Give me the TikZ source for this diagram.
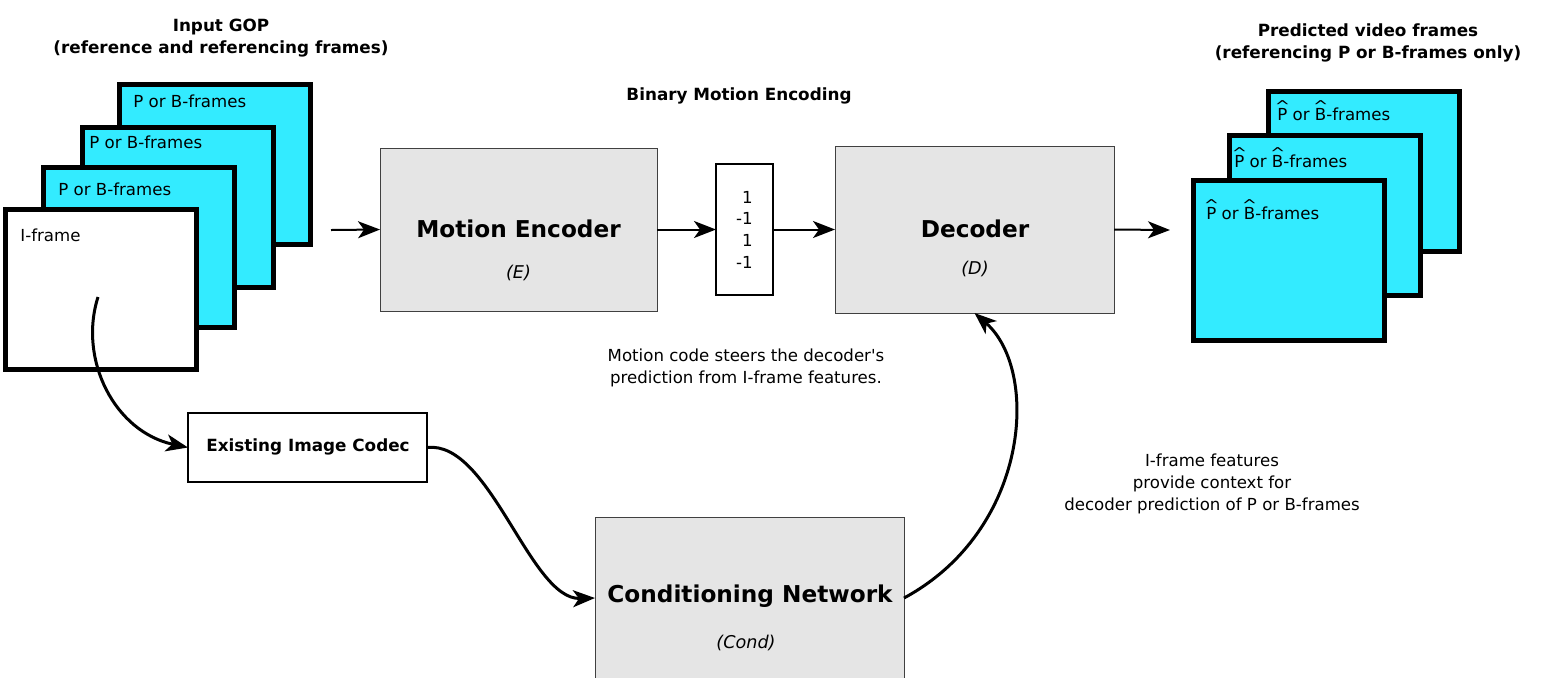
\documentclass[tikz,border=0pt]{standalone}
\usepackage{fontspec}
\setmainfont{DejaVu Sans}
\usepackage{graphicx}
\usetikzlibrary{positioning,arrows.meta}
\definecolor{framecyan}{RGB}{51,235,255}
\definecolor{blockgray}{RGB}{229,229,229}

\newcommand{\hatted}[1]{\leavevmode\rlap{\raisebox{0.5em}{\makebox[\fontcharwd\font`#1]{\scalebox{1.1}[0.9]{\textasciicircum}}}}#1}

\begin{document}
\begin{tikzpicture}[x=0.5pt,y=-0.5pt]
	\tikzset{
		vidframe/.style={draw,line width=2.5pt,fill=framecyan,inner sep=0pt,outer sep=0pt,minimum width=95.5pt,minimum height=80pt},
		iframe/.style={vidframe,fill=white},
		block/.style={draw=black!75,line width=0.5pt,fill=blockgray,inner sep=0pt,outer sep=0pt},
		whitebox/.style={draw,line width=1pt,fill=white,inner sep=0pt,outer sep=0pt},
		framelabel/.style={anchor=base west,inner sep=0pt,font=\fontsize{8.3}{10}\selectfont},
		title/.style={align=center,font=\fontsize{8.4}{11}\selectfont\bfseries},
		bigtitle/.style={font=\fontsize{11.6}{14}\selectfont\bfseries},
		tag/.style={font=\fontsize{8.8}{11}\selectfont\itshape},
		note/.style={align=center,font=\fontsize{8.3}{11}\selectfont},
		>={Stealth[length=11pt,width=8.5pt,inset=3pt]},
		link/.style={->,line width=1pt},
		curvelink/.style={->,line width=1.5pt}
	}
	\useasboundingbox (0,0) rectangle (1543,677);

	%% input GOP
	\node[title] (intitle) at (221,38) {Input GOP\\(reference and referencing frames)};
	\node[vidframe] (in3) at (215,164.5) {};
	\node[framelabel] (in3l) at (133,107) {P or B-frames};
	\node[vidframe] (in2) at (177.5,207) {};
	\node[framelabel] (in2l) at (89,148) {P or B-frames};
	\node[vidframe] (in1) at (139,247.5) {};
	\node[framelabel] (in1l) at (58,195) {P or B-frames};
	\node[iframe] (in0) at (100.5,289) {};
	\node[framelabel] (in0l) at (20,241) {I-frame};
	\coordinate (itap) at (98,297);
	\coordinate (gopout) at (331,230);

	%% encoder, code, decoder
	\node[block,minimum width=138.5pt,minimum height=81.5pt] (enc) at (518.5,229.5) {};
	\node[bigtitle] (encl) at (518.5,229) {Motion Encoder};
	\node[tag] (enct) at (518.5,273) {(E)};
	\node[font=\fontsize{8.4}{11}\selectfont\bfseries] (codetitle) at (739,96) {Binary Motion Encoding};
	\node[whitebox,minimum width=28.5pt,minimum height=65.5pt] (code) at (744.5,229.5) {};
	\node[note,align=right,font=\fontsize{8.3}{10.85}\selectfont] (codel) at (744.5,229.5) {1\\-1\\1\\-1};
	\node[block,minimum width=139.5pt,minimum height=83.5pt] (dec) at (974.5,229.5) {};
	\node[bigtitle] (decl) at (975,229) {Decoder};
	\node[tag] (dect) at (975,269) {(D)};
	\coordinate (decout) at (1170,230);

	%% predicted frames
	\node[title] (outtitle) at (1368,43) {Predicted video frames\\(referencing P or B-frames only)};
	\node[vidframe] (out3) at (1364,171) {};
	\node[framelabel] (out3l) at (1277,120) {\hatted{P} or \hatted{B}-frames};
	\node[vidframe] (out2) at (1325,215) {};
	\node[framelabel] (out2l) at (1234,167) {\hatted{P} or \hatted{B}-frames};
	\node[vidframe] (out1) at (1288.5,260) {};
	\node[framelabel] (out1l) at (1206,219) {\hatted{P} or \hatted{B}-frames};

	%% codec and conditioning
	\node[whitebox,minimum width=119.5pt,minimum height=34.5pt] (codec) at (307.5,447.5) {};
	\node[font=\fontsize{8.4}{11}\selectfont\bfseries] (codecl) at (308,447) {Existing Image Codec};
	\node[block,minimum width=154.5pt,minimum height=81pt] (cond) at (749.5,598) {};
	\node[bigtitle] (condl) at (750,596) {Conditioning Network};
	\node[tag] (condt) at (746,643) {(Cond)};

	%% notes
	\node[note] (note1) at (746,368) {Motion code steers the decoder\textquotesingle s\\prediction from I-frame features.};
	\node[note] (note2) at (1212,484) {I-frame features\\provide context for\\decoder prediction of P or B-frames};

	%% connectors
	\draw[link] (gopout) -- (enc.west);
	\draw[link] (enc.east) -- (code.west);
	\draw[link] (code.east) -- (dec.west);
	\draw[link] (dec.east) -- (decout);
	\draw[curvelink] (itap) .. controls (78,360) and (115,432) .. (codec.west);
	\draw[curvelink] (codec.east) .. controls (490,440) and (530,600) .. (cond.west);
	\draw[curvelink] (cond.east) .. controls (1030,530) and (1040,370) .. (dec.south);
\end{tikzpicture}
\end{document}
